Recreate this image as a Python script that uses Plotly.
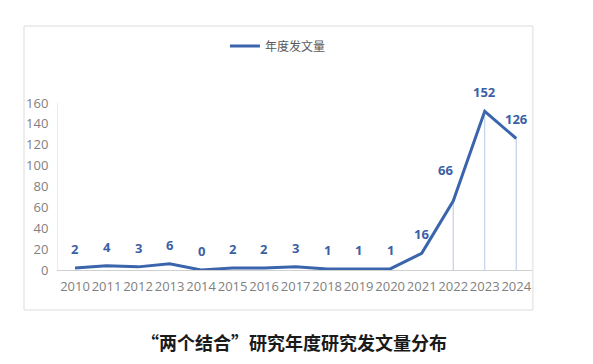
import plotly.graph_objects as go

years = ["2010", "2011", "2012", "2013", "2014", "2015", "2016", "2017",
         "2018", "2019", "2020", "2021", "2022", "2023", "2024"]
counts = [2, 4, 3, 6, 0, 2, 2, 3, 1, 1, 1, 16, 66, 152, 126]
series_name = "年度发文量"
y_ticks = [0, 20, 40, 60, 80, 100, 120, 140, 160]
caption = "“两个结合”研究年度研究发文量分布"

LINE = "#3a64ab"
LABEL = "#3b5fa6"
GRAY = "#7f7f7f"
FONT = "Open Sans, Noto Sans CJK SC, sans-serif"

fig = go.Figure()

fig.add_trace(go.Scatter(
    x=years, y=counts, mode="lines", name=series_name,
    line=dict(color=LINE, width=3)))

# faint drop lines under the last three points
fig.add_trace(go.Scatter(
    x=years[-3:], y=counts[-3:], mode="markers",
    marker=dict(size=1, color="rgba(0,0,0,0)"),
    error_y=dict(type="data", symmetric=False, array=[0] * 3,
                 arrayminus=counts[-3:], color="rgba(90,130,200,0.45)",
                 thickness=1, width=0),
    showlegend=False, hoverinfo="skip"))

# data labels (x given as category index)
for i, (yr, v) in enumerate(zip(years, counts)):
    dx, dy = 0, 19
    if yr == "2022":
        dx, dy = -8, 31
    fig.add_annotation(x=i, y=v, text=f"<b>{v}</b>", showarrow=False,
                       xshift=dx, yshift=dy,
                       font=dict(family=FONT, size=13, color=LABEL))

# caption
fig.add_annotation(xref="paper", yref="paper", x=0.497, y=-0.43, yanchor="middle",
                   text="<b>" + caption + "</b>", showarrow=False,
                   font=dict(family="Noto Sans CJK SC, sans-serif", size=18, color="#1a1a1a"))

# border box
fig.add_shape(type="rect", xref="paper", yref="paper",
              x0=-0.0717, x1=1.002, y0=-0.2395, y1=1.461,
              line=dict(color="#dcdcdc", width=1), layer="below")

fig.update_layout(
    width=593, height=364,
    margin=dict(l=50, r=69, t=95, b=102),
    paper_bgcolor="white", plot_bgcolor="white",
    font=dict(family=FONT, color=GRAY),
    legend=dict(orientation="h", x=0.464, y=1.341, xanchor="center", yanchor="middle",
                font=dict(family="Noto Sans CJK SC, sans-serif", size=12, color="#595959"),
                bgcolor="rgba(0,0,0,0)"),
    xaxis=dict(type="category", categoryorder="array", categoryarray=years,
               range=[-0.54, 14.5], showgrid=False,
               showline=True, linecolor="#d0d0d0", linewidth=1,
               ticks="", tickangle=0, automargin=False, ticklabelstandoff=4,
               tickfont=dict(size=13, color=GRAY), zeroline=False),
    yaxis=dict(range=[0, 160], tickvals=y_ticks, showgrid=False,
               showline=True, linecolor="#ececec", linewidth=1, automargin=False,
               ticks="", tickfont=dict(size=13, color=GRAY), zeroline=False,
               ticklabelstandoff=6),
)

fig.write_html("out.html")
